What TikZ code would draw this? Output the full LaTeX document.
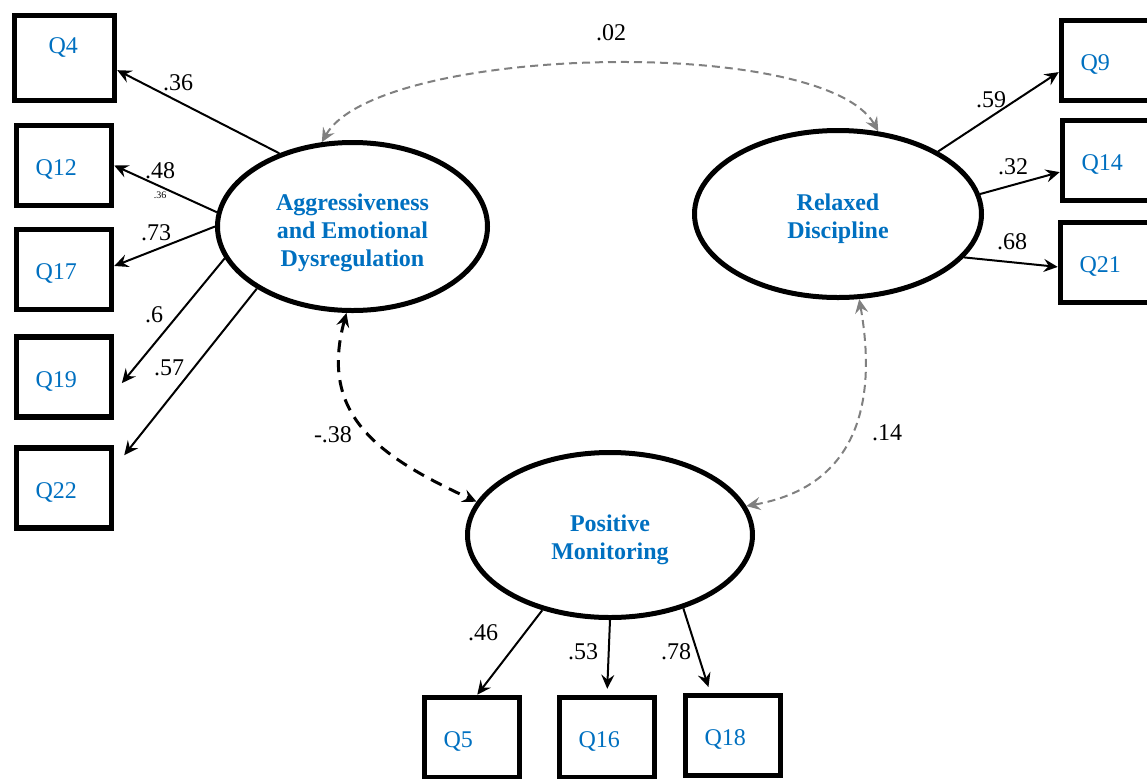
\documentclass[tikz,border=0pt]{standalone}
\usepackage{fontspec}
\setmainfont{Liberation Serif}
\usetikzlibrary{shapes.geometric, arrows.meta, positioning, calc}
\definecolor{itemblue}{RGB}{0, 112, 192}
\definecolor{covgray}{RGB}{128, 128, 128}

\begin{document}
\begin{tikzpicture}[x=0.5pt, y=-0.5pt,
    item/.style={draw, line width=2.75pt, minimum width=47.5pt, minimum height=40pt,
                 text width=28.5pt, inner xsep=9.5pt, align=left, text height=12pt,
                 text depth=2pt, text=itemblue, font=\fontsize{12}{14}\selectfont},
    factor/.style={draw, ellipse, line width=2.5pt, align=center, text=itemblue,
                   text height=26pt, text depth=2pt, font=\fontsize{12}{14}\selectfont\bfseries},
    coef/.style={inner sep=0pt, font=\fontsize{12}{14}\selectfont},
    load/.style={line width=1pt, -{Stealth[length=7pt, width=6.5pt, inset=2.5pt]}},
    cov/.style={line width=1pt, draw=covgray, dash pattern=on 4pt off 2.5pt,
                {Stealth[length=7pt, width=6.5pt, inset=2.5pt]}-{Stealth[length=7pt, width=6.5pt, inset=2.5pt]}},
    negcov/.style={line width=1.5pt, dash pattern=on 6pt off 4pt,
                   {Stealth[length=7pt, width=6.5pt, inset=2.5pt]}-{Stealth[length=7pt, width=6.5pt, inset=2.5pt]}}
]
    \useasboundingbox (0,0) rectangle (1147,778);

    % Latent factors
    \node[factor, minimum width=135pt, minimum height=84pt, text height=41.5pt] (aed) at (352.5,226.5)
        {Aggressiveness\\and Emotional\\Dysregulation};
    \node[factor, minimum width=143.5pt, minimum height=83.5pt] (rd) at (838,214)
        {Relaxed\\Discipline};
    \node[factor, minimum width=142.5pt, minimum height=82.5pt] (pm) at (610,535)
        {Positive\\Monitoring};

    % Items
    \node[item, minimum width=50pt, minimum height=42.5pt, inner xsep=17pt,
          text width=16pt, text height=9pt, text depth=14pt] (q4) at (64.5,58) {Q4};
    \node[item] (q12) at (64,165.5) {Q12};
    \node[item] (q17) at (64,269.5) {Q17};
    \node[item] (q19) at (64,377) {Q19};
    \node[item] (q22) at (64,488) {Q22};
    \node[item] (q9) at (1109,60.5) {Q9};
    \node[item] (q14) at (1110,160.5) {Q14};
    \node[item] (q21) at (1108,262.5) {Q21};
    \node[item] (q5) at (472,737.5) {Q5};
    \node[item] (q16) at (607,737.5) {Q16};
    \node[item] (q18) at (733,735.5) {Q18};

    % Loadings
    \draw[load] (aed.135) -- (q4.-13);
    \draw[load] (aed.174) -- (q12.east);
    \draw[load] (aed.180) -- (q17.4);
    \draw[load, shorten >=6pt] (aed.194) -- (q19.-17);
    \draw[load, shorten >=8pt] (aed.213) -- (q22.22);
    \draw[load] (rd.32) -- (q9.193);
    \draw[load] (rd.8) -- (q14.193);
    \draw[load] (rd.-19) -- (q21.185);
    \draw[load] (pm.228) -- (q5.83);
    \draw[load, shorten >=3pt] (pm.south) -- (q16.north);
    \draw[load, shorten >=3pt] (pm.-45) -- (q18.118);

    \node[coef] (l36) at (178,83) {.36};
    \node[coef] (l48) at (160,171) {.48};
    \node[coef, font=\fontsize{5}{6}\selectfont] (l36b) at (160,195) {.36};
    \node[coef] (l73) at (156,233) {.73};
    \node[coef] (l6) at (154,315) {.6};
    \node[coef] (l57) at (169,368) {.57};
    \node[coef] (l59) at (991,100) {.59};
    \node[coef] (l32) at (1013,167) {.32};
    \node[coef] (l68) at (1012,242) {.68};
    \node[coef] (l46) at (483,633) {.46};
    \node[coef] (l53) at (583,652) {.53};
    \node[coef] (l78) at (676,652) {.78};

    % Correlations
    \draw[cov] (aed.110) .. controls +(55,-97) and +(-55,-97) .. (rd.64);
    \draw[negcov] (aed.266) .. controls +(-28,103) and +(-97,-45) .. (pm.166);
    \draw[cov] (rd.-76) .. controls +(19,108) and +(108,-19) .. (pm.12);

    \node[coef] (l02) at (611,33) {.02};
    \node[coef] (l38) at (333,435) {-.38};
    \node[coef] (l14) at (887,433) {.14};
\end{tikzpicture}
\end{document}
